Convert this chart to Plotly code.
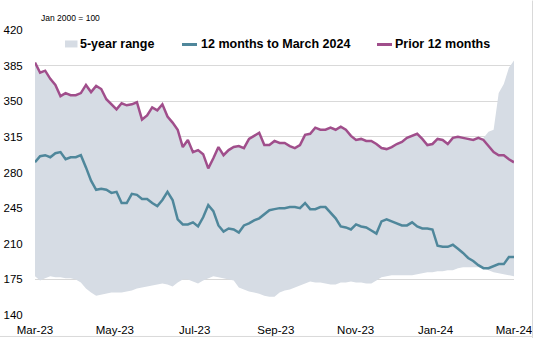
import pandas as pd
import plotly.graph_objects as go

# ---- data (index, Jan 2000 = 100) ----
start_date = "2023-03-01"
end_date = "2024-03-01"

last_12m = [290, 296, 297, 295, 299, 300, 293, 295, 295, 297,
            285, 272, 263, 264, 263, 260, 261, 250, 250, 259,
            258, 254, 254, 250, 247, 253, 261, 253, 234, 229,
            229, 231, 227, 236, 248, 242, 228, 222, 225, 224,
            221, 228, 230, 233, 235, 239, 243, 244, 245, 245,
            246, 246, 245, 250, 244, 244, 246, 246, 241, 235,
            227, 226, 224, 229, 227, 226, 223, 220, 232, 234,
            232, 230, 228, 228, 231, 227, 225, 225, 224, 208,
            207, 207, 209, 205, 201, 196, 193, 189, 186, 186,
            188, 190, 190, 197, 197]

prior_12m = [388, 378, 380, 372, 366, 355, 358, 356, 356, 358,
             366, 359, 365, 362, 352, 347, 342, 348, 346, 347,
             349, 332, 336, 344, 341, 347, 335, 329, 322, 305,
             312, 300, 302, 298, 284, 294, 305, 297, 302, 305,
             306, 304, 313, 316, 319, 307, 307, 311, 309, 309,
             306, 304, 307, 317, 318, 324, 322, 322, 324, 322,
             325, 322, 316, 312, 313, 311, 311, 308, 304, 303,
             305, 308, 310, 314, 316, 318, 313, 307, 308, 313,
             312, 308, 314, 315, 314, 313, 312, 314, 312, 306,
             300, 297, 297, 293, 290]

range_low = [178, 174, 176, 178, 177, 177, 176, 176, 175, 172,
             166, 162, 159, 160, 161, 162, 162, 162, 163, 164,
             166, 167, 168, 169, 170, 171, 170, 168, 172, 175,
             175, 173, 171, 174, 176, 178, 177, 176, 175, 174,
             167, 165, 163, 162, 161, 159, 158, 158, 162, 164,
             165, 167, 169, 171, 173, 172, 172, 171, 170, 170,
             172, 172, 173, 172, 172, 171, 171, 174, 177, 178,
             179, 179, 179, 179, 179, 180, 181, 182, 182, 183,
             183, 184, 184, 186, 187, 187, 187, 187, 186, 184,
             182, 181, 180, 179, 178]

# upper edge of the 5-year range follows the prior-year line, except at the end
range_high_tail = [314, 320, 322, 358, 367, 383, 390]
range_high = prior_12m[:len(prior_12m) - len(range_high_tail)] + range_high_tail

tick_dates = ["2023-03-01", "2023-05-01", "2023-07-01", "2023-09-01",
              "2023-11-01", "2024-01-01", "2024-03-01"]
tick_labels = ["Mar-23", "May-23", "Jul-23", "Sep-23", "Nov-23", "Jan-24", "Mar-24"]
y_ticks = [140, 175, 210, 245, 280, 315, 350, 385, 420]

legend_names = ["5-year range", "12 months to March 2024", "Prior 12 months"]

# ---- styling ----
BAND = "#D6DCE4"
BLUE = "#4F879B"
PURPLE = "#A04E8B"
GRID = "#D9D9D9"
FONT = "Liberation Sans, Arial, sans-serif"

dates = pd.date_range(start_date, end_date, periods=len(last_12m))

fig = go.Figure()
fig.add_trace(go.Scatter(x=dates, y=range_low, mode="lines", line=dict(width=0, color=BAND),
                         showlegend=False, hoverinfo="skip"))
fig.add_trace(go.Scatter(x=dates, y=range_high, mode="lines", line=dict(width=0, color=BAND),
                         fill="tonexty", fillcolor=BAND, showlegend=False, name=legend_names[0]))
fig.add_trace(go.Scatter(x=dates, y=prior_12m, mode="lines", line=dict(width=2.5, color=PURPLE),
                         showlegend=False, name=legend_names[2]))
fig.add_trace(go.Scatter(x=dates, y=last_12m, mode="lines", line=dict(width=2.5, color=BLUE),
                         showlegend=False, name=legend_names[1]))

W, H = 533, 338
L, R, T, B = 35, 19, 29.5, 23
pw, ph = W - L - R, H - T - B


def px(xp):
    return (xp - L) / pw


def py(yp):
    return 1 - (yp - T) / ph


shapes = []
annotations = []
# manual legend
leg_y = 44
shapes.append(dict(type="rect", xref="paper", yref="paper", x0=px(65), x1=px(77.5),
                   y0=py(47), y1=py(40), fillcolor=BAND, line=dict(width=0)))
shapes.append(dict(type="line", xref="paper", yref="paper", x0=px(182), x1=px(197),
                   y0=py(leg_y), y1=py(leg_y), line=dict(color=BLUE, width=3)))
shapes.append(dict(type="line", xref="paper", yref="paper", x0=px(377), x1=px(392),
                   y0=py(leg_y), y1=py(leg_y), line=dict(color=PURPLE, width=3)))
for name, xl in zip(legend_names, [78, 199, 393]):
    annotations.append(dict(text="<b>%s</b>" % name, xref="paper", yref="paper",
                            x=px(xl), y=py(leg_y), xanchor="left", yanchor="middle",
                            showarrow=False, font=dict(family=FONT, size=12.5, color="#000000")))
annotations.append(dict(text="Jan 2000 = 100", xref="paper", yref="paper",
                        x=px(38.5), y=py(17.5), xanchor="left", yanchor="middle",
                        showarrow=False, font=dict(family=FONT, size=8.5, color="#000000")))
# chart frame (right and bottom edges)
shapes.append(dict(type="line", xref="paper", yref="paper", x0=px(532.5), x1=px(532.5),
                   y0=py(0), y1=py(338), line=dict(color=GRID, width=1)))
shapes.append(dict(type="line", xref="paper", yref="paper", x0=px(0), x1=px(533),
                   y0=py(336.5), y1=py(336.5), line=dict(color=GRID, width=1)))

fig.update_layout(
    width=W, height=H,
    margin=dict(l=L, r=R, t=T, b=B, pad=0, autoexpand=False),
    paper_bgcolor="white", plot_bgcolor="white",
    showlegend=False,
    font=dict(family=FONT, size=11.5, color="#000000"),
    shapes=shapes, annotations=annotations,
    xaxis=dict(type="date", range=[start_date, end_date], tickvals=tick_dates,
               ticktext=tick_labels, showgrid=False, zeroline=False, showline=False,
               ticks="outside", ticklen=4, tickcolor="rgba(0,0,0,0)", automargin=False,
               tickfont=dict(family=FONT, size=11.5, color="#000000"), fixedrange=True),
    yaxis=dict(range=[140, 420], tickvals=y_ticks, showgrid=True, gridcolor=GRID, gridwidth=1,
               zeroline=False, showline=False, ticks="outside", ticklen=9,
               tickcolor="rgba(0,0,0,0)", automargin=False,
               tickfont=dict(family=FONT, size=11.5, color="#000000"), fixedrange=True),
)

fig.write_html("out.html", config={"displayModeBar": False})
